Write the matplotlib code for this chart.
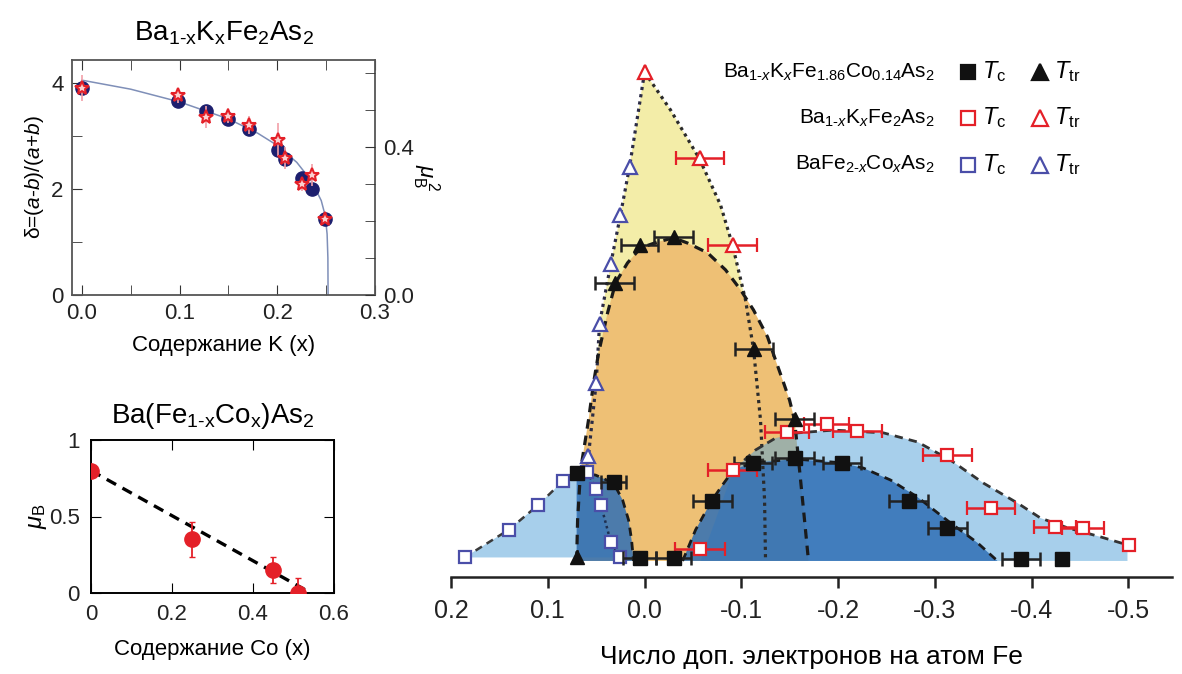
import numpy as np
import matplotlib
matplotlib.use("Agg")
import matplotlib.pyplot as plt
from matplotlib.ticker import MultipleLocator, FixedLocator, FixedFormatter

plt.rcParams['font.family'] = ['Liberation Sans', 'DejaVu Sans']
plt.rcParams['mathtext.fontset'] = 'custom'
plt.rcParams['mathtext.rm'] = 'Liberation Sans'
plt.rcParams['mathtext.it'] = 'Liberation Sans:italic'
plt.rcParams['mathtext.bf'] = 'Liberation Sans:bold'
NARROW = ['Liberation Sans Narrow', 'Liberation Sans', 'DejaVu Sans']

# ---------------- Ba1-xKxFe2As2 : orthorhombic distortion and moment ----------------
k_x = [0.0, 0.098, 0.127, 0.150, 0.171, 0.201, 0.208, 0.225, 0.236, 0.249]
k_delta = [3.90, 3.65, 3.46, 3.32, 3.12, 2.74, 2.57, 2.20, 2.00, 1.43]
k_mu2 = [0.56, 0.54, 0.48, 0.485, 0.46, 0.42, 0.37, 0.30, 0.325, 0.205]
k_mu2_err = [0.035, 0.02, 0.03, 0.02, 0.025, 0.045, 0.03, 0.02, 0.03, 0.01]
k_fit_x = [0.0, 0.05, 0.10, 0.15, 0.18, 0.20, 0.22, 0.235, 0.245, 0.249, 0.251, 0.2518, 0.252]
k_fit_y = [4.05, 3.88, 3.64, 3.32, 3.05, 2.82, 2.50, 2.15, 1.78, 1.50, 1.15, 0.70, 0.0]

# ---------------- Ba(Fe1-xCox)As2 : ordered moment ----------------
co_x = [0.0, 0.25, 0.45, 0.512]
co_mu = [0.80, 0.35, 0.152, 0.0]
co_mu_err = [0.0, 0.115, 0.085, 0.098]
co_fit_x = [0.0, 0.543]
co_fit_y = [0.80, 0.0]

# ---------------- phase diagram (x: extra electrons per Fe, y: T in K) ----------------
# BaFe2-xCoxAs2
bc_tc_x = [0.186, 0.140, 0.110, 0.084, 0.059, 0.050, 0.045, 0.035, 0.025]
bc_tc_y = [1.0, 9.0, 16.0, 23.0, 25.5, 20.5, 16.0, 5.5, 1.0]
bc_ttr_x = [0.0155, 0.025, 0.035, 0.0465, 0.050, 0.058]
bc_ttr_y = [113, 99, 85, 68, 51, 30]
bc_ttr_line_x = [0.0, 0.0155, 0.025, 0.035, 0.0465, 0.050, 0.058, 0.061]
bc_ttr_line_y = [140, 113, 99, 85, 68, 51, 30, 24]

# Ba1-xKxFe2As2
bk_ttr_x = [0.0, -0.057, -0.091]
bk_ttr_y = [140, 115.5, 90.5]
bk_ttr_xerr = [0.0, 0.025, 0.025]
bk_tc_x = [-0.057, -0.091, -0.147, -0.188, -0.220, -0.313, -0.358, -0.424, -0.453, -0.501]
bk_tc_y = [3.3, 26.0, 37.0, 39.3, 37.2, 30.4, 15.3, 9.8, 9.4, 4.6]
bk_tc_xerr = [0.026, 0.025, 0.023, 0.023, 0.025, 0.025, 0.025, 0.022, 0.022, 0.0]
bk_ttr_line_x = [0.0, -0.0269, -0.0568, -0.0785, -0.0909, -0.1043, -0.1126, -0.1198, -0.124, -0.125]
bk_ttr_line_y = [140.1, 129.2, 115.2, 102.0, 90.5, 74.8, 60.7, 40.4, 17.5, 0.0]
bk_sc_x = [-0.0579, -0.0733, -0.0919, -0.1147, -0.1353, -0.1581, -0.1952, -0.2469, -0.2820,
           -0.3161, -0.3502, -0.3853, -0.4091, -0.4370, -0.4711, -0.4990, -0.4990]
bk_sc_y = [0.0, 11.7, 26.1, 31.8, 35.2, 36.7, 37.5, 36.7, 34.1,
           28.9, 22.3, 16.6, 12.3, 9.5, 6.9, 4.6, 0.0]

# Ba1-xKxFe1.86Co0.14As2
kc_ttr_x = [0.070, 0.031, 0.005, -0.030, -0.113, -0.155]
kc_ttr_y = [1.2, 79.6, 90.5, 92.8, 60.7, 40.8]
kc_ttr_xerr = [0.0, 0.02, 0.019, 0.02, 0.02, 0.02]
kc_tc_x = [0.070, 0.032, 0.005, -0.030, -0.070, -0.112, -0.155, -0.204, -0.273, -0.313, -0.389, -0.431]
kc_tc_y = [25.3, 22.7, 0.8, 0.8, 17.2, 28.0, 29.4, 28.0, 17.3, 9.5, 0.6, 0.6]
kc_tc_xerr = [0.0, 0.013, 0.017, 0.018, 0.02, 0.02, 0.02, 0.02, 0.02, 0.02, 0.02, 0.0]
kc_ttr_line_x = [0.0702, 0.0692, 0.0661, 0.0579, 0.0527, 0.0475, 0.0382, 0.0300, 0.0176, 0.0041,
                 -0.0134, -0.0300, -0.0444, -0.0651, -0.0837, -0.0992, -0.1126, -0.1271, -0.1353,
                 -0.1426, -0.1498, -0.1550, -0.1581, -0.1612, -0.1653, -0.1694]
kc_ttr_line_y = [0.0, 11.7, 26.1, 40.4, 51.0, 59.6, 71.1, 79.7, 85.4, 89.7,
                 91.4, 92.6, 91.1, 88.3, 83.4, 77.7, 71.9, 64.2, 57.6,
                 51.9, 46.1, 40.4, 31.8, 23.2, 11.7, 0.0]
kc_sc1_x = [0.0702, 0.0702, 0.0506, 0.032, 0.0227, 0.0165, 0.0134, 0.0114]
kc_sc1_y = [0.0, 25.5, 24.6, 22.3, 17.5, 11.7, 6.0, 0.0]
kc_sc2_x = [-0.0393, -0.0527, -0.0692, -0.0806, -0.0919, -0.1116, -0.1560, -0.2045, -0.2262,
            -0.2541, -0.2820, -0.3161, -0.3440, -0.3647]
kc_sc2_y = [0.0, 8.9, 17.2, 21.8, 26.1, 28.1, 29.2, 28.1, 26.6,
            23.2, 18.3, 10.9, 5.2, 0.0]

main_ticks = [0.2, 0.1, 0.0, -0.1, -0.2, -0.3, -0.4, -0.5]
main_ticklabels = ['0.2', '0.1', '0.0', '-0.1', '-0.2', '-0.3', '-0.4', '-0.5']

# colours
YELLOW = '#f3eda8'
ORANGE = '#eec075'
LIGHT = (81/255, 161/255, 217/255)
DARK = '#2f6fb5'
RED = '#e42028'
BLUE = '#4a4ea8'
NAVY = '#1d1f6e'

W, H = 1182, 674
fig = plt.figure(figsize=(W/100, H/100), dpi=100)


def rect(l, t, r, b):
    return [l/W, 1 - b/H, (r - l)/W, (b - t)/H]


# ===== top-left panel =====
ax1 = fig.add_axes(rect(72, 60, 375, 295))
ax1.plot(k_fit_x, k_fit_y, color='#7f8fb8', lw=1.1, zorder=2)
ax1.plot(k_x, k_delta, 'o', color=NAVY, ms=9.5, zorder=3)
ax1.set_xlim(-0.01, 0.3)
ax1.set_ylim(0, 4.43)
ax1.xaxis.set_major_locator(FixedLocator([0.0, 0.1, 0.2, 0.3]))
ax1.xaxis.set_major_formatter(FixedFormatter(['0.0', '0.1', '0.2', '0.3']))
ax1.xaxis.set_minor_locator(MultipleLocator(0.05))
ax1.yaxis.set_major_locator(FixedLocator([0, 2, 4]))
ax1.yaxis.set_minor_locator(MultipleLocator(1))
ax1.tick_params(which='both', direction='in', top=True, right=False, labelsize=16, pad=6,
                colors='#333333', labelcolor='#222222')
ax1.tick_params(which='both', length=7)
for s in ax1.spines.values():
    s.set_color('#555555')
    s.set_linewidth(1.3)
ax1.set_xlabel('Содержание K (x)', fontsize=16, labelpad=8)
ax1.set_ylabel(r'δ=($\mathit{a}$-$\mathit{b}$)/($\mathit{a}$+$\mathit{b}$)', fontsize=15, labelpad=4)
ax1.set_title(r'Ba$_{\text{1-x}}$K$_{\mathrm{x}}$Fe$_2$As$_2$', fontsize=20, pad=14)

ax1r = ax1.twinx()
ax1r.set_ylim(0, 0.635)
ax1r.errorbar(k_x, k_mu2, yerr=k_mu2_err, fmt='none', ecolor='#f2a0a8', elinewidth=1.2, zorder=2)
ax1r.plot(k_x, k_mu2, '*', ms=10.5, mfc='#fbd0d0', mec=RED, mew=1.5, zorder=4)
ax1r.yaxis.set_major_locator(FixedLocator([0.0, 0.4]))
ax1r.yaxis.set_major_formatter(FixedFormatter(['0.0', '0.4']))
ax1r.yaxis.set_minor_locator(MultipleLocator(0.1))
ax1r.tick_params(which='both', direction='in', length=7, labelsize=16, pad=6,
                 colors='#333333', labelcolor='#222222')
for s in ax1r.spines.values():
    s.set_visible(False)
ax1r.set_ylabel(r'$\mu_{\mathrm{B}}^{\ 2}$', fontsize=16, rotation=270, labelpad=20)

# ===== bottom-left panel =====
ax2 = fig.add_axes(rect(91, 440, 334, 593))
ax2.plot(co_fit_x, co_fit_y, color='black', lw=2.4, ls=(0, (3.2, 2.2)), zorder=2)
ax2.errorbar(co_x, co_mu, yerr=co_mu_err, fmt='o', color=RED, ms=11, elinewidth=1.3,
             ecolor=RED, capsize=2, zorder=3, clip_on=True)
ax2.set_xlim(0, 0.6)
ax2.set_ylim(0, 1)
ax2.xaxis.set_major_locator(FixedLocator([0, 0.2, 0.4, 0.6]))
ax2.xaxis.set_major_formatter(FixedFormatter(['0', '0.2', '0.4', '0.6']))
ax2.yaxis.set_major_locator(FixedLocator([0, 0.5, 1]))
ax2.yaxis.set_major_formatter(FixedFormatter(['0', '0.5', '1']))
ax2.tick_params(direction='in', top=True, right=True, length=7, labelsize=16, pad=8,
                labelcolor='#222222')
for s in ax2.spines.values():
    s.set_linewidth(1.4)
ax2.set_xlabel('Содержание Co (x)', fontsize=16, labelpad=10)
ax2.set_ylabel(r'$\mu_{\mathrm{B}}$', fontsize=17, labelpad=0)
ax2.set_title(r'Ba(Fe$_{\text{1-x}}$Co$_{\mathrm{x}}$)As$_2$', fontsize=20, pad=12)

# ===== main phase diagram =====
ax = fig.add_axes(rect(451, 37.5, 1172, 577))
ax.set_xlim(0.2, -0.545)
ax.set_ylim(-4.6, 150)

# structural / magnetic transition region (both dopings)
ttr_poly_x = bc_ttr_line_x + bk_ttr_line_x[::-1]
ttr_poly_y = bc_ttr_line_y + bk_ttr_line_y[::-1]
ax.fill(ttr_poly_x, ttr_poly_y, color=YELLOW, lw=0, zorder=1)
ax.fill(kc_ttr_line_x, kc_ttr_line_y, color=ORANGE, lw=0, zorder=2)
# superconducting domes
ax.fill(bc_tc_x, bc_tc_y, color=LIGHT, alpha=0.5, lw=0, zorder=3)
ax.fill(bk_sc_x, bk_sc_y, color=LIGHT, alpha=0.5, lw=0, zorder=3)
ax.fill(kc_sc1_x, kc_sc1_y, color=DARK, alpha=0.85, lw=0, zorder=4)
ax.fill(kc_sc2_x, kc_sc2_y, color=DARK, alpha=0.85, lw=0, zorder=4)

dot = (0, (1.0, 1.3))
dash = (0, (3.0, 2.2))
ax.plot(bc_ttr_line_x, bc_ttr_line_y, color='#2b2b45', lw=2.3, ls=dot, zorder=5)
ax.plot(bk_ttr_line_x, bk_ttr_line_y, color='#2b2b2b', lw=2.3, ls=dot, zorder=5)
ax.plot(kc_ttr_line_x, kc_ttr_line_y, color='#1a1a1a', lw=2.3, ls=dash, zorder=5)
ax.plot(kc_sc1_x[1:], kc_sc1_y[1:], color='#1a1a1a', lw=2.0, ls=dash, zorder=5)
ax.plot(bc_tc_x[:5], bc_tc_y[:5], color='#3a3a3a', lw=1.8, ls=dash, zorder=5)
ax.plot(bc_tc_x[4:], bc_tc_y[4:], color='#1f2f50', lw=1.8, ls=dot, zorder=5)
ax.plot(bk_sc_x[2:-1], bk_sc_y[2:-1], color='#333333', lw=2.0, ls=dash, zorder=5)
ax.plot(kc_sc2_x, kc_sc2_y, color='#1a1a1a', lw=2.0, ls=dash, zorder=5)

eb = dict(capsize=5, elinewidth=1.8, capthick=1.8, zorder=6, ls='none')
ax.errorbar(bk_ttr_x, bk_ttr_y, xerr=bk_ttr_xerr, fmt='^', ms=10, mfc='white', mec=RED,
            mew=1.6, ecolor=RED, **eb)
ax.errorbar(bk_tc_x, bk_tc_y, xerr=bk_tc_xerr, fmt='s', ms=8.5, mfc='white', mec=RED,
            mew=1.6, ecolor=RED, **eb)
ax.plot(bc_ttr_x, bc_ttr_y, '^', ms=10, mfc='white', mec=BLUE, mew=1.6, ls='none', zorder=6)
ax.plot(bc_tc_x, bc_tc_y, 's', ms=8.5, mfc='white', mec=BLUE, mew=1.6, ls='none', zorder=6)
ax.errorbar(kc_tc_x, kc_tc_y, xerr=kc_tc_xerr, fmt='s', ms=9.5, color='#111111',
            ecolor='#222222', **eb)
ax.errorbar(kc_ttr_x, kc_ttr_y, xerr=kc_ttr_xerr, fmt='^', ms=10.5, color='#111111',
            ecolor='#222222', **eb)

for side in ('left', 'right', 'top'):
    ax.spines[side].set_visible(False)
ax.spines['bottom'].set_linewidth(1.8)
ax.spines['bottom'].set_color('#222222')
ax.set_yticks([])
ax.xaxis.set_major_locator(FixedLocator(main_ticks))
ax.xaxis.set_major_formatter(FixedFormatter(main_ticklabels))
ax.tick_params(axis='x', direction='out', length=8, width=1.8, colors='#222222', pad=8)
for lab in ax.get_xticklabels():
    lab.set_fontfamily(NARROW)
    lab.set_fontsize(18)
ax.set_xlabel('Число доп. электронов на атом Fe', fontsize=19, family=NARROW, labelpad=16)

# key
rows = [
    (r'Ba$_{\text{1-}x}$K$_x$Fe$_{1.86}$Co$_{0.14}$As$_2$',
     dict(marker='s', color='#111111', mfc='#111111'), dict(marker='^', color='#111111', mfc='#111111')),
    (r'Ba$_{\text{1-}x}$K$_x$Fe$_2$As$_2$',
     dict(marker='s', color=RED, mfc='white'), dict(marker='^', color=RED, mfc='white')),
    (r'BaFe$_{\text{2-}x}$Co$_x$As$_2$',
     dict(marker='s', color=BLUE, mfc='white'), dict(marker='^', color=BLUE, mfc='white')),
]
row_y = [0.936, 0.851, 0.764]
for (name, sq, tri), yy in zip(rows, row_y):
    ax.text(0.671, yy, name, transform=ax.transAxes, ha='right', va='center', fontsize=15)
    ax.plot([0.717], [yy], ls='none', ms=10, mew=1.6, transform=ax.transAxes,
            clip_on=False, mec=sq['color'], **{k: v for k, v in sq.items() if k != 'color'})
    ax.text(0.737, yy, r'$T_{\mathrm{c}}$', transform=ax.transAxes, ha='left', va='center', fontsize=17)
    ax.plot([0.817], [yy], ls='none', ms=11, mew=1.6, transform=ax.transAxes,
            clip_on=False, mec=tri['color'], **{k: v for k, v in tri.items() if k != 'color'})
    ax.text(0.836, yy, r'$T_{\mathrm{tr}}$', transform=ax.transAxes, ha='left', va='center', fontsize=17)

fig.savefig('out.png', dpi=100)
